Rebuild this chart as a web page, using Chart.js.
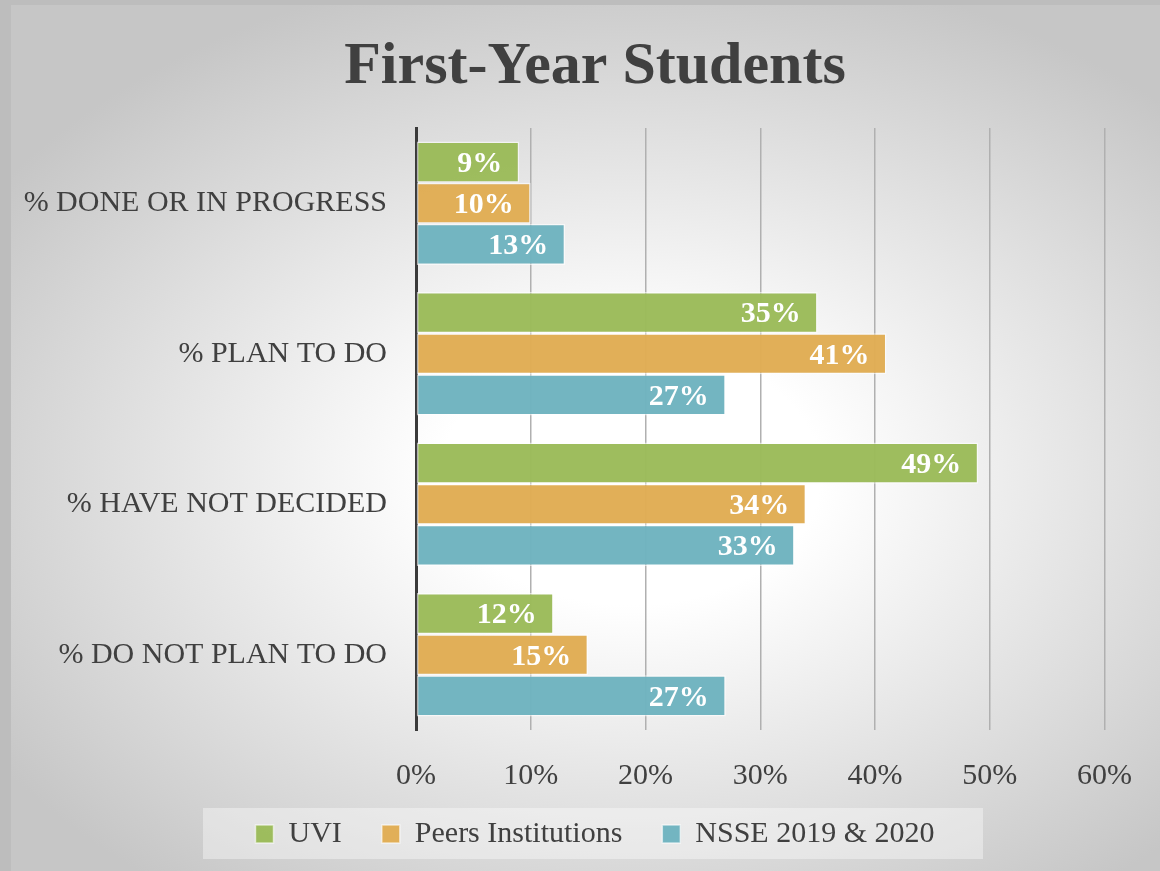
<!DOCTYPE html>
<html>
<head>
<meta charset="utf-8">
<script src="https://cdn.jsdelivr.net/npm/chart.js@4/dist/chart.umd.min.js"></script>
<style>
  html, body { margin: 0; padding: 0; background: #bdbdbd; width: 1160px; height: 871px; overflow: hidden; }
  #wrap { position: absolute; left: 11px; top: 5px; width: 1149px; height: 866px; }
</style>
</head>
<body>
<div id="wrap"><canvas id="c" width="1149" height="866"></canvas></div>
<script>
const categories = ["% DONE OR IN PROGRESS", "% PLAN TO DO", "% HAVE NOT DECIDED", "% DO NOT PLAN TO DO"];
const seriesNames = ["UVI", "Peers Institutions", "NSSE 2019 & 2020"];
const uviValues = [9, 35, 49, 12];
const peersValues = [10, 41, 34, 15];
const nsseValues = [13, 27, 33, 27];
const xTicks = [0, 10, 20, 30, 40, 50, 60];
const titleText = "First-Year Students";

const FONT = "'Liberation Serif', 'Times New Roman', serif";
const TEXT = "#404040";

const bgPlugin = {
  id: 'bg',
  afterLayout(chart) {
    const shift = 33;
    if (chart.titleBlock) { chart.titleBlock.left += shift; chart.titleBlock.right += shift; }
    const lg = chart.legend;
    if (lg) {
      lg.left += shift; lg.right += shift;
      lg.top -= 12; lg.bottom -= 12;
      lg.adjustHitBoxes();
    }
  },
  beforeDraw(chart) {
    const ctx = chart.ctx;
    const w = chart.width, h = chart.height;
    ctx.save();
    const cx = 620, cy = 470, rx = 760, ry = 520;
    ctx.fillStyle = '#c6c6c6';
    ctx.fillRect(0, 0, w, h);
    ctx.translate(cx, cy);
    ctx.scale(1, ry / rx);
    const g = ctx.createRadialGradient(0, 0, 0, 0, 0, rx);
    g.addColorStop(0, '#ffffff');
    g.addColorStop(0.25, '#ffffff');
    g.addColorStop(1, '#c6c6c6');
    ctx.fillStyle = g;
    ctx.fillRect(-rx * 2, -rx * 2, rx * 4, rx * 4);
    ctx.restore();
    const lg = chart.legend;
    if (lg) {
      const lcx = (lg.left + lg.right) / 2 - 2;
      const lcy = lg.top + 54;
      ctx.save();
      ctx.fillStyle = 'rgba(255,255,255,0.38)';
      ctx.fillRect(lcx - 390, lcy - 25, 780, 51);
      ctx.restore();
    }
  }
};

const labelPlugin = {
  id: 'barLabels',
  afterDatasetsDraw(chart) {
    const ctx = chart.ctx;
    ctx.save();
    ctx.font = "bold 30px " + FONT;
    ctx.fillStyle = '#ffffff';
    ctx.textAlign = 'right';
    ctx.textBaseline = 'middle';
    chart.data.datasets.forEach((ds, i) => {
      const meta = chart.getDatasetMeta(i);
      meta.data.forEach((el, j) => {
        ctx.fillText(ds.data[j] + '%', el.x - 17, el.y + 2);
      });
    });
    ctx.restore();
  }
};

const colors = ['rgba(155,187,89,0.97)', 'rgba(224,172,83,0.97)', 'rgba(110,179,191,0.97)'];
const seriesData = [uviValues, peersValues, nsseValues];

new Chart(document.getElementById('c'), {
  type: 'bar',
  data: {
    labels: categories,
    datasets: seriesNames.map((n, i) => ({
      label: n,
      data: seriesData[i],
      backgroundColor: colors[i],
      borderColor: 'rgba(255,255,255,0.6)',
      borderWidth: 1.5,
      borderSkipped: false,
      categoryPercentage: 0.82,
      barPercentage: 1.0
    }))
  },
  options: {
    indexAxis: 'y',
    responsive: false,
    animation: false,
    devicePixelRatio: 1,
    layout: { padding: { left: 0, right: 47, top: 0, bottom: 0 } },
    scales: {
      x: {
        min: 0, max: 60,
        afterBuildTicks(scale) { scale.ticks = xTicks.map(v => ({ value: v })); },
        ticks: {
          callback: v => v + '%',
          color: TEXT,
          font: { family: FONT, size: 30 },
          padding: 28
        },
        grid: { color: '#b0b0b0', lineWidth: 1.5, drawTicks: false },
        border: { display: false },
        afterFit(scale) { scale.height = 61; }
      },
      y: {
        ticks: {
          color: TEXT,
          font: { family: FONT, size: 30 },
          padding: 29
        },
        grid: { display: false, drawTicks: false },
        border: { display: true, color: '#3a3a3a', width: 3 },
        afterFit(scale) { scale.width = 405; }
      }
    },
    plugins: {
      title: {
        display: true,
        text: titleText,
        color: TEXT,
        font: { family: FONT, size: 60, weight: 'bold' },
        padding: { top: 26, bottom: 25 }
      },
      legend: {
        position: 'bottom',
        labels: {
          color: TEXT,
          font: { family: FONT, size: 30 },
          boxWidth: 18,
          boxHeight: 18,
          padding: 40
        }
      },
      tooltip: { enabled: false }
    }
  },
  plugins: [bgPlugin, labelPlugin]
});
</script>
</body>
</html>
